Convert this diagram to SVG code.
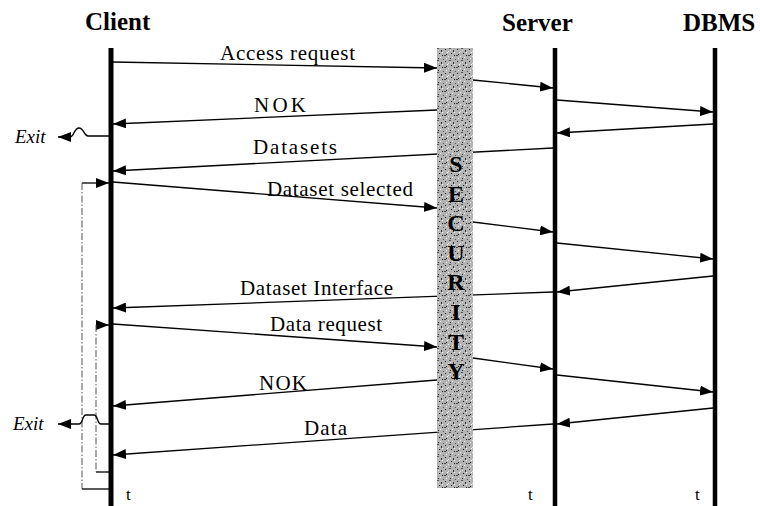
<svg xmlns="http://www.w3.org/2000/svg" width="760" height="506" viewBox="0 0 760 506">
<style>
.hdr{font-family:"Liberation Serif",serif;font-weight:bold;font-size:25px;fill:#000}
.lbl{font-family:"Liberation Serif",serif;font-size:21px;fill:#000}
.t{font-family:"Liberation Serif",serif;font-size:17px;fill:#000}
.exit{font-family:"Liberation Serif",serif;font-style:italic;font-size:19px;fill:#000}
.sec{font-family:"Liberation Serif",serif;font-weight:bold;font-size:24px;fill:#000;text-anchor:middle}
.life{stroke:#000;fill:none}
.msg{stroke:#000;stroke-width:1.3;fill:none;marker-end:url(#ah)}
.plain{stroke:#000;stroke-width:1.3;fill:none}
.loop{stroke:#555;stroke-width:1;fill:none;stroke-dasharray:7 2 1.5 2}
</style>
<defs>
<marker id="ah" viewBox="0 0 13 10" refX="13" refY="5" markerWidth="13" markerHeight="10" markerUnits="userSpaceOnUse" orient="auto">
<path d="M0,0 L13,5 L0,10 z" fill="#000"/>
</marker>
<pattern id="noise" width="12" height="12" patternUnits="userSpaceOnUse">
<rect width="12" height="12" fill="#b4b4b4"/>
<rect x="1" y="1" width="1" height="1" fill="#222"/>
<rect x="5" y="0" width="2" height="1" fill="#555"/>
<rect x="9" y="2" width="1" height="2" fill="#333"/>
<rect x="3" y="4" width="1" height="1" fill="#fff"/>
<rect x="4" y="3" width="1" height="1" fill="#e6e6e6"/>
<rect x="7" y="5" width="1" height="1" fill="#111"/>
<rect x="0" y="7" width="2" height="1" fill="#444"/>
<rect x="4" y="8" width="1" height="1" fill="#eee"/>
<rect x="10" y="7" width="1" height="1" fill="#222"/>
<rect x="6" y="10" width="1" height="1" fill="#333"/>
<rect x="2" y="10" width="1" height="1" fill="#fff"/>
<rect x="11" y="11" width="1" height="1" fill="#555"/>
<rect x="8" y="9" width="1" height="1" fill="#f4f4f4"/>
<rect x="10" y="4" width="1" height="1" fill="#fafafa"/>
<rect x="2" y="6" width="1" height="1" fill="#111"/>
<rect x="6" y="2" width="1" height="1" fill="#ddd"/>
</pattern>
</defs>

<g id="client">
<text class="hdr" x="85" y="30">Client</text>
<line class="life" x1="111" y1="48" x2="111" y2="506" stroke-width="5"/>
<text class="t" x="126" y="500">t</text>
</g>
<g id="server">
<text class="hdr" x="502" y="31">Server</text>
<line class="life" x1="555" y1="48" x2="555" y2="506" stroke-width="4.5"/>
<text class="t" x="528" y="500">t</text>
</g>
<g id="dbms">
<text class="hdr" x="683" y="31">DBMS</text>
<line class="life" x1="715" y1="48" x2="715" y2="506" stroke-width="4.5"/>
<text class="t" x="695" y="500">t</text>
</g>

<g id="connectors">
<line class="msg" x1="113" y1="62" x2="437" y2="68"/>
<line class="msg" x1="473" y1="80" x2="553" y2="88"/>
<line class="msg" x1="557" y1="100" x2="713" y2="112"/>
<line class="msg" x1="713" y1="124" x2="557" y2="133"/>
<line class="msg" x1="437" y1="110" x2="113" y2="124"/>
<line class="msg" x1="553" y1="148" x2="113" y2="171"/>
<line class="msg" x1="113" y1="182" x2="437" y2="208"/>
<line class="msg" x1="473" y1="222" x2="553" y2="232"/>
<line class="msg" x1="557" y1="243" x2="713" y2="259"/>
<line class="msg" x1="713" y1="276" x2="557" y2="292"/>
<line class="msg" x1="553" y1="292" x2="113" y2="308"/>
<line class="msg" x1="113" y1="324" x2="437" y2="347"/>
<line class="msg" x1="473" y1="358" x2="553" y2="369"/>
<line class="msg" x1="557" y1="375" x2="713" y2="392"/>
<line class="msg" x1="437" y1="380" x2="113" y2="406"/>
<line class="msg" x1="713" y1="408" x2="557" y2="424"/>
<line class="msg" x1="553" y1="424" x2="113" y2="455"/>

<line class="msg" x1="82" y1="183" x2="109" y2="183"/>
<line class="loop" x1="82" y1="183" x2="82" y2="489"/>
<line class="plain" x1="82" y1="489" x2="110" y2="489"/>
<line class="msg" x1="96" y1="325" x2="109" y2="325"/>
<line class="loop" x1="96" y1="325" x2="96" y2="472"/>
<line class="plain" x1="96" y1="472" x2="110" y2="472"/>

<path class="msg" d="M110,136 H88 C84,136 84,128 79,128 C74,128 74,137 70,137 H58"/>
<path class="msg" d="M110,424 H101 C97,424 98,415 94,415 H86 C82,415 83,424 79,424 H58"/>
</g>

<g id="labels">
<text class="lbl" x="220" y="60" textLength="135" lengthAdjust="spacing">Access request</text>
<text class="lbl" x="254" y="112" textLength="52" lengthAdjust="spacing">NOK</text>
<text class="lbl" x="253" y="154" textLength="84" lengthAdjust="spacing">Datasets</text>
<text class="lbl" x="267" y="196" textLength="146" lengthAdjust="spacing">Dataset selected</text>
<text class="lbl" x="240" y="295" textLength="153" lengthAdjust="spacing">Dataset Interface</text>
<text class="lbl" x="270" y="331" textLength="112" lengthAdjust="spacing">Data request</text>
<text class="lbl" x="259" y="390" textLength="48" lengthAdjust="spacing">NOK</text>
<text class="lbl" x="304" y="435" textLength="43" lengthAdjust="spacing">Data</text>
<text class="exit" x="15" y="143">Exit</text>
<text class="exit" x="13" y="430">Exit</text>
</g>

<g id="security">
<rect x="437" y="48" width="36" height="440" fill="url(#noise)"/>
<text class="sec" x="456" y="172">S</text>
<text class="sec" x="456" y="201.6">E</text>
<text class="sec" x="456" y="231.2">C</text>
<text class="sec" x="456" y="260.8">U</text>
<text class="sec" x="456" y="290.4">R</text>
<text class="sec" x="456" y="320">I</text>
<text class="sec" x="456" y="349.6">T</text>
<text class="sec" x="456" y="379.2">Y</text>
</g>
</svg>
